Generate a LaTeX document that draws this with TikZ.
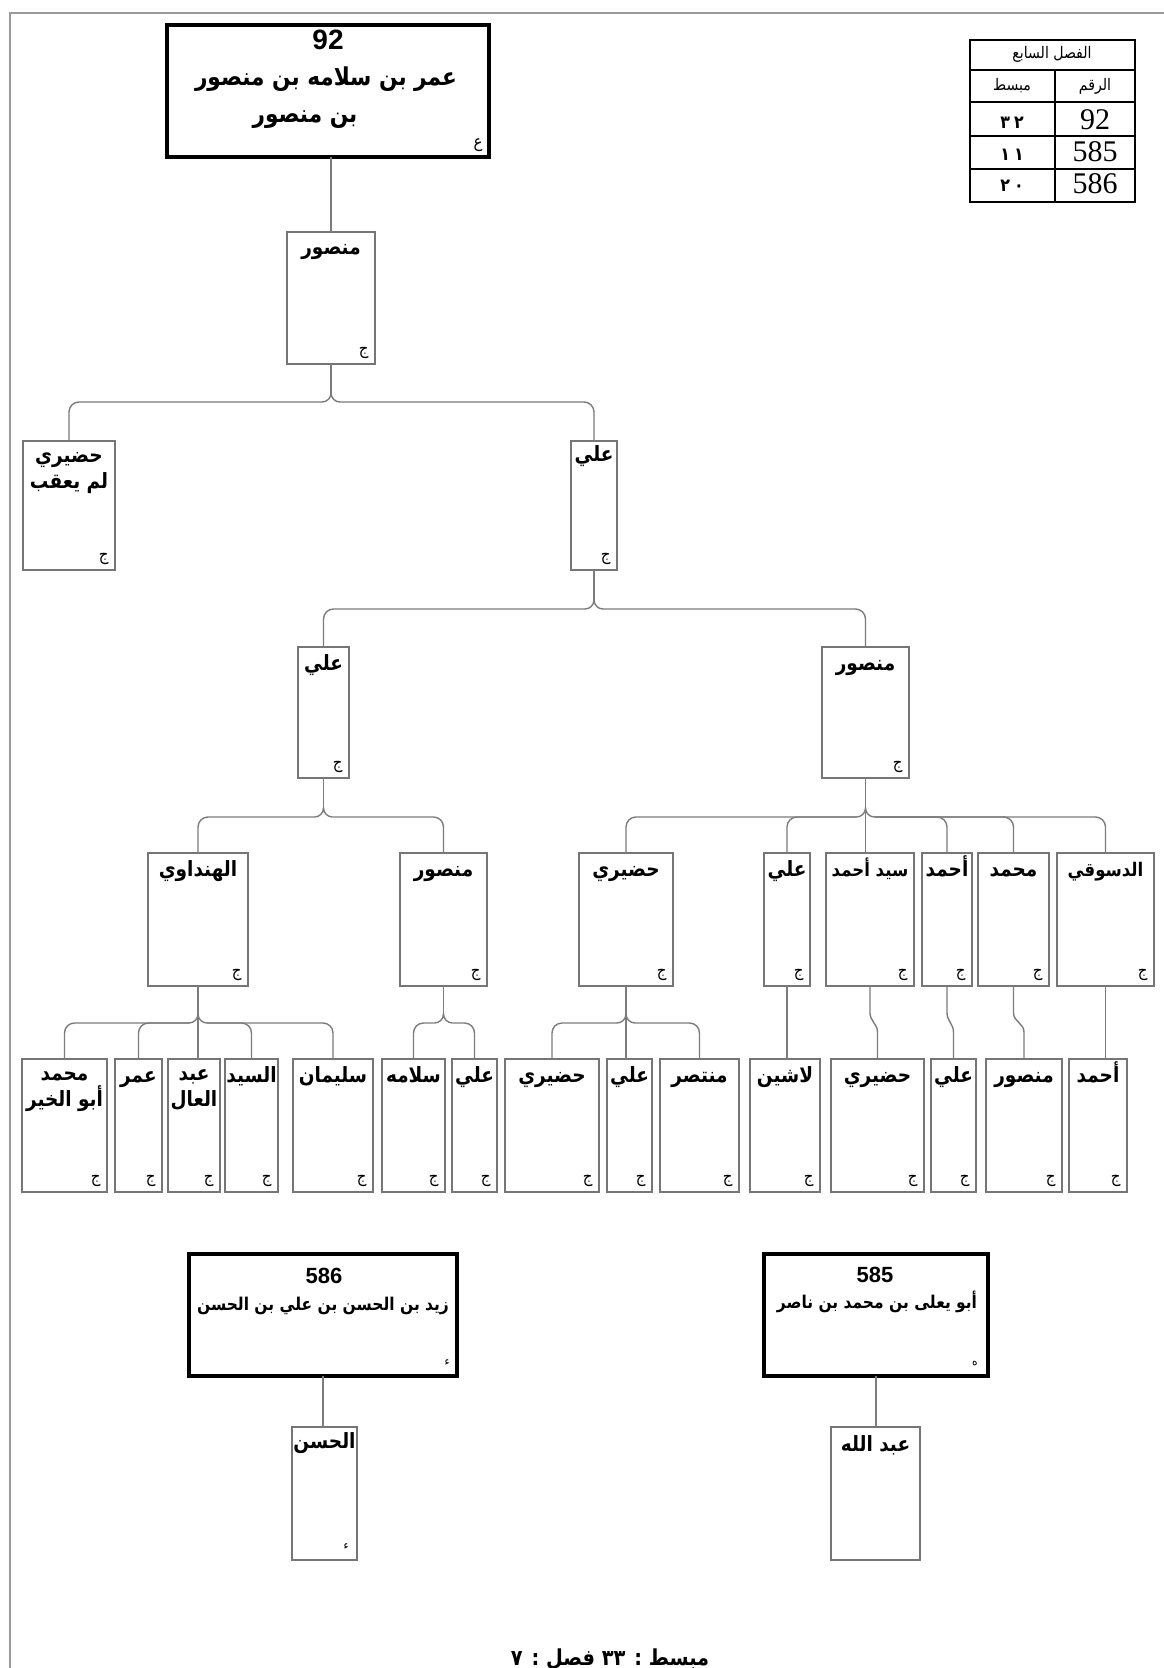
\documentclass[tikz,border=0pt]{standalone}
\usepackage{fontspec}
\setmainfont{Liberation Sans}
\newfontfamily\arf[Script=Arabic,FakeStretch=0.88]{DejaVu Sans}
\newfontfamily\serf{Liberation Serif}
\TeXXeTstate=1
\usetikzlibrary{calc}
\definecolor{bxc}{HTML}{767676}
\definecolor{lnc}{HTML}{7C7C7C}
\definecolor{frc}{HTML}{9A9A9A}
\tikzset{
  box/.style={draw=bxc, line width=0.7pt, inner sep=0pt, outer sep=0pt},
  bigbox/.style={draw=black, line width=2pt, inner sep=0pt, outer sep=0pt},
  conn/.style={draw=lnc, line width=0.7pt},
  nmtext/.style={font=\arf\bfseries\fontsize{10.5}{12}\selectfont, inner sep=0pt, anchor=base},
  narrowtext/.style={font=\arf\bfseries\fontsize{9.4}{12}\selectfont, inner sep=0pt, anchor=base},
  longtext/.style={font=\arf\bfseries\fontsize{8.8}{12}\selectfont, inner sep=0pt, anchor=base},
  toptext/.style={font=\arf\bfseries\fontsize{12.3}{14}\selectfont, inner sep=0pt, anchor=base},
  mktext/.style={font=\arf\fontsize{8.5}{9}\selectfont, inner sep=0pt, anchor=south east},
  smallmk/.style={font=\arf\fontsize{6}{7}\selectfont, inner sep=0pt, anchor=south east},
  numtext/.style={font=\bfseries\fontsize{11}{13}\selectfont, inner sep=0pt, anchor=base},
  tbl/.style={draw=black, line width=0.6pt},
  tbhead/.style={font=\arf\fontsize{8}{9}\selectfont, inner sep=0pt, anchor=base},
  tbnum/.style={font=\serf\fontsize{15}{17}\selectfont, inner sep=0pt, anchor=base},
  tbar/.style={font=\arf\bfseries\fontsize{9}{11}\selectfont, inner sep=0pt, anchor=base},
}
% box: [style]{name}{x1}{y1}{x2}{y2}  (pixel units, y downwards)
\newcommand{\bx}[6][box]{\node[#1, minimum width={(#5-#3)*0.5pt}, minimum height={(#6-#4)*0.5pt}] (#2) at ({(#3+#5)/2},{(#4+#6)/2}) {};}
% one-line name, baseline #1 px below top
\newcommand{\nm}[3][23]{\node[nmtext] (#2-n) at ([yshift={-#1*0.5pt}]#2.north) {#3};}
% two-line name
\newcommand{\nmm}[3]{\node[nmtext] (#1-n) at ([yshift={-21*0.5pt}]#1.north) {#2};
  \node[nmtext] (#1-o) at ([yshift={-47*0.5pt}]#1.north) {#3};}
% small mark bottom right
\newcommand{\mk}[2]{\node[mktext] (#1-m) at ([shift={(-6,-5)}]#1.south east) {#2};}
% junction below parent #1, horizontal #2 px below it, name #3
\newcommand{\junc}[3]{%
  \draw[conn] (#1.south) -- ++(0,#2-9) coordinate (#3t);
  \path (#3t) ++(-9,9) coordinate (#3l);
  \path (#3t) ++(9,9) coordinate (#3r);
  \draw[conn] (#3l) to[out=0,in=-90] (#3t) to[out=-90,in=180] (#3r);}
\newcommand{\kid}[3]{\draw[conn, rounded corners=5pt] (#1#2) -| (#3.north);}
\newcommand{\kidS}[2]{\draw[conn] (#1t) -- (#1t |- #2.north);}
\newcommand{\jog}[2]{\draw[conn] (#1.south) -- ++(0,27) to[out=-90,in=90] ($(#2.north)+(0,-27)$) -- (#2.north);}
\begin{document}
\begin{tikzpicture}[x=0.5pt,y=-0.5pt]
\useasboundingbox (0,0) rectangle (1163,1668);
\fill[white] (0,0) rectangle (1163,1668);
% page frame
\draw[frc, line width=0.8pt] (10,1670) -- (10,13) -- (1165,13);

% ---------- table ----------
\coordinate (tbNW) at (970,40);
\coordinate (tbSE) at (1135,202);
\draw[tbl] (tbNW) rectangle (tbSE);
\foreach \yy in {70,102,136,169} \draw[tbl] (970,\yy) -- (1135,\yy);
\draw[tbl] (1055,70) -- (1055,202);
\node[tbhead] (th) at (1052,59) {\beginR الفصل السابع\endR};
\node[tbhead] (th1) at (1012,91) {\beginR مبسط\endR};
\node[tbhead] (th2) at (1095,91) {\beginR الرقم\endR};
\node[tbnum] (r1b) at (1095,130) {92};
\node[tbnum] (r2b) at (1095,162) {585};
\node[tbnum] (r3b) at (1095,194) {586};
\node[tbar] (r1a) at (1012,129) {٣\kern2pt٢};
\node[tbar] (r2a) at (1012,161) {١\kern2pt١};
\node[tbar] (r3a) at (1012,192) {٢\kern2pt٠};

% ---------- boxes ----------
\bx[bigbox]{T}{167}{25}{489}{157}
\bx{a1}{287}{232}{375}{364}
\bx{b1}{23}{441}{115}{570}
\bx{b2}{571}{441}{617}{570}
\bx{c1}{298}{647}{349}{778}
\bx{c2}{822}{647}{909}{778}
\bx{d1}{148}{853}{248}{986}
\bx{d2}{400}{853}{487}{986}
\bx{d3}{579}{853}{673}{986}
\bx{d4}{764}{853}{810}{986}
\bx{d5}{826}{853}{914}{986}
\bx{d6}{922}{853}{972}{986}
\bx{d7}{978}{853}{1049}{986}
\bx{d8}{1057}{853}{1154}{986}
\bx{e1}{22}{1059}{107}{1192}
\bx{e2}{115}{1059}{162}{1192}
\bx{e3}{168}{1059}{220}{1192}
\bx{e4}{225}{1059}{278}{1192}
\bx{e5}{293}{1059}{373}{1192}
\bx{e6}{382}{1059}{445}{1192}
\bx{e7}{452}{1059}{497}{1192}
\bx{e8}{505}{1059}{599}{1192}
\bx{e9}{607}{1059}{652}{1192}
\bx{e10}{660}{1059}{739}{1192}
\bx{e11}{750}{1059}{820}{1192}
\bx{e12}{831}{1059}{924}{1192}
\bx{e13}{931}{1059}{976}{1192}
\bx{e14}{986}{1059}{1062}{1192}
\bx{e15}{1069}{1059}{1127}{1192}
\bx[bigbox]{f1}{189}{1254}{457}{1376}
\bx[bigbox]{f2}{764}{1254}{988}{1376}
\bx{g1}{292}{1427}{357}{1560}
\bx{g2}{831}{1427}{920}{1560}

% ---------- texts ----------
\node[font=\bfseries\fontsize{14}{16}\selectfont, inner sep=0pt, anchor=base] (T-num) at (328,50) {92};
\node[toptext] (T-n) at (326,86) {\beginR عمر بن سلامه بن منصور\endR};
\node[toptext] (T-o) at (305,123) {\beginR بن منصور\endR};
\mk{T}{ع}

\nm{a1}{منصور}\mk{a1}{ج}
\nmm{b1}{حضيري}{\beginR لم يعقب\endR}\mk{b1}{ج}
\nm[20]{b2}{علي}\mk{b2}{ج}
\nm{c1}{علي}\mk{c1}{ج}
\nm{c2}{منصور}\mk{c2}{ج}
\nm{d1}{الهنداوي}\mk{d1}{ج}
\nm{d2}{منصور}\mk{d2}{ج}
\nm{d3}{حضيري}\mk{d3}{ج}
\nm{d4}{علي}\mk{d4}{ج}
\node[narrowtext] (d5-n) at ([yshift={-23*0.5pt}]d5.north) {\beginR سيد أحمد\endR};\mk{d5}{ج}
\nm{d6}{أحمد}\mk{d6}{ج}
\nm{d7}{محمد}\mk{d7}{ج}
\node[narrowtext] (d8-n) at ([yshift={-23*0.5pt}]d8.north) {الدسوقي};\mk{d8}{ج}
\nmm{e1}{محمد}{\beginR أبو الخير\endR}\mk{e1}{ج}
\nm{e2}{عمر}\mk{e2}{ج}
\nmm{e3}{عبد}{العال}\mk{e3}{ج}
\nm{e4}{السيد}\mk{e4}{ج}
\nm{e5}{سليمان}\mk{e5}{ج}
\nm{e6}{سلامه}\mk{e6}{ج}
\nm{e7}{علي}\mk{e7}{ج}
\nm{e8}{حضيري}\mk{e8}{ج}
\nm{e9}{علي}\mk{e9}{ج}
\nm{e10}{منتصر}\mk{e10}{ج}
\nm{e11}{لاشين}\mk{e11}{ج}
\nm{e12}{حضيري}\mk{e12}{ج}
\nm{e13}{علي}\mk{e13}{ج}
\nm{e14}{منصور}\mk{e14}{ج}
\nm{e15}{أحمد}\mk{e15}{ج}

\node[numtext] (f1-num) at (324,1283) {586};
\node[longtext] (f1-n) at (323,1310) {\beginR زيد بن الحسن بن علي بن الحسن\endR};
\node[smallmk] (f1-m) at ([shift={(-7,-10)}]f1.south east) {ء};
\node[numtext] (f2-num) at (875,1282) {585};
\node[longtext] (f2-n) at (877,1308) {\beginR أبو يعلى بن محمد بن ناصر\endR};
\node[smallmk] (f2-m) at ([shift={(-10,-10)}]f2.south east) {ه};
\nm[21]{g1}{الحسن}
\node[smallmk] (g1-m) at ([shift={(-8,-10)}]g1.south east) {ء};
\nm[24]{g2}{\beginR عبد الله\endR}

\node[font=\arf\bfseries\fontsize{11}{13}\selectfont, inner sep=0pt, anchor=north] (foot) at (610,1648) {\beginR مبسط : ٣٣ فصل : ٧\endR};

% ---------- connectors ----------
\draw[conn] (a1.north |- T.south) -- (a1.north);
\junc{a1}{38}{j1}
\kid{j1}{l}{b1}\kid{j1}{r}{b2}
\junc{b2}{39}{j2}
\kid{j2}{l}{c1}\kid{j2}{r}{c2}
\junc{c1}{39}{j3}
\kid{j3}{l}{d1}\kid{j3}{r}{d2}
\junc{c2}{39}{j4}
\kid{j4}{l}{d3}\kid{j4}{l}{d4}\kidS{j4}{d5}
\kid{j4}{r}{d6}\kid{j4}{r}{d7}\kid{j4}{r}{d8}
\junc{d1}{37}{j5}
\kid{j5}{l}{e1}\kid{j5}{l}{e2}\kidS{j5}{e3}\kid{j5}{r}{e4}\kid{j5}{r}{e5}
\junc{d2}{37}{j6}
\kid{j6}{l}{e6}\kid{j6}{r}{e7}
\junc{d3}{37}{j7}
\kid{j7}{l}{e8}\kidS{j7}{e9}\kid{j7}{r}{e10}
\draw[conn] (d4.south) -- (d4.south |- e11.north);
\jog{d5}{e12}
\jog{d6}{e13}
\jog{d7}{e14}
\draw[conn] (d8.south) -- (d8.south |- e15.north);
\draw[conn] (f1.south) -- (f1.south |- g1.north);
\draw[conn] (f2.south) -- (f2.south |- g2.north);
\end{tikzpicture}
\end{document}
